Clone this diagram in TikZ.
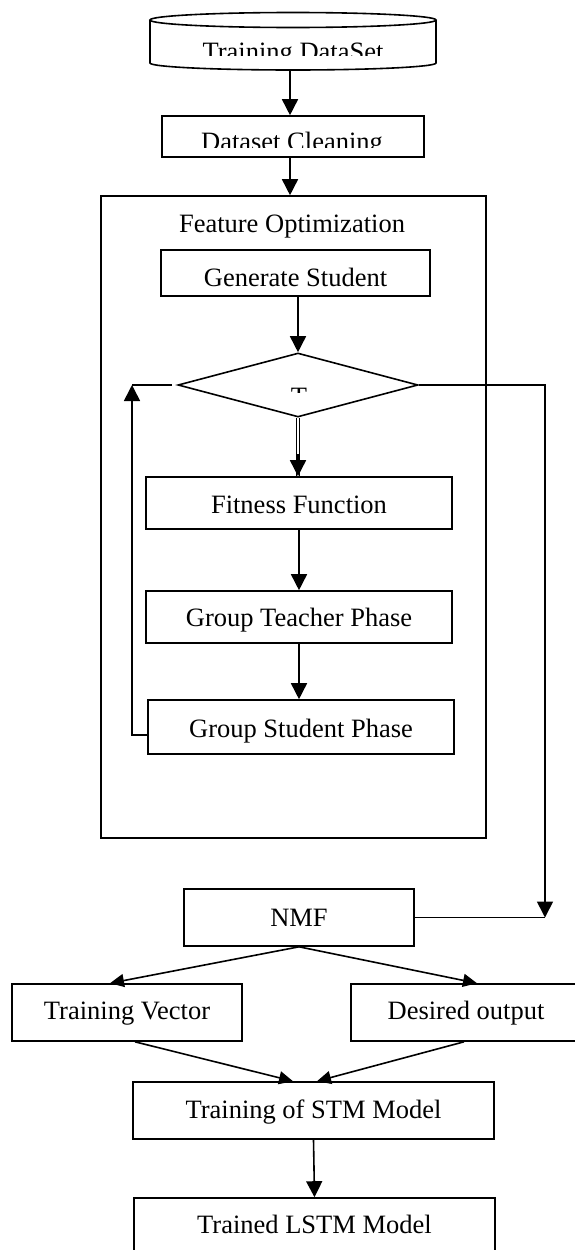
\documentclass[tikz,border=0pt]{standalone}
\usepackage{fontspec}
\setmainfont{Liberation Serif}
\usetikzlibrary{arrows.meta,shapes.geometric,calc}
\begin{document}
\begin{tikzpicture}[x=1pt,y=-1pt,
  every node/.style={font=\fontsize{26.5}{30}\selectfont, inner sep=0pt},
  ln/.style={line width=1.6pt},
  box/.style={draw, line width=1.6pt, rectangle, text height=26pt, minimum height=57pt},
  arr/.style={line width=1.6pt, -{Triangle[width=16pt,length=16pt]}},
  sarr/.style={line width=1.6pt, -{Triangle[width=13pt,length=14pt]}}]
\useasboundingbox (0,0) rectangle (575,1250);
\clip (0,0) rectangle (575,1250);

% cylinder
\draw[ln] (293,20) ellipse [x radius=143pt, y radius=7.5pt];
\draw[ln] (150,20) -- (150,63) arc[start angle=180, end angle=360, x radius=143pt, y radius=7pt] -- (436,20);
\begin{scope}
  \clip (150,28) rectangle (436,55);
  \node[anchor=base] (dst) at (293,60.5) {Training DataSet};
\end{scope}
\coordinate (dsb) at (290,70);

% dataset cleaning
\node[box, minimum width=262pt, minimum height=41pt] (dc) at (293,136.5) {};
\begin{scope}
  \clip (162,116) rectangle (424,147);
  \node[anchor=base] (dct) at (292,150.5) {Dataset Cleaning};
\end{scope}

% feature optimization container
\node[box, minimum width=385pt, minimum height=642pt] (fo) at (293.5,517) {};
\node[anchor=base] (fot) at (292,232) {Feature Optimization};

\node[box, minimum width=269pt, minimum height=46pt, text depth=0pt] (gs) at (295.5,273) {Generate Student};
\node[diamond, draw, line width=1.6pt, minimum width=240pt, minimum height=64pt] (dia) at (298,385) {};
\begin{scope}
  \clip (178,353) rectangle (418,392);
  \node[anchor=base] (diat) at (299,405.5) {T};
\end{scope}
\node[box, minimum width=306pt, minimum height=52pt, text depth=6pt] (ff) at (299,503) {Fitness Function};
\node[box, minimum width=306pt, minimum height=52pt, text depth=8pt] (gtp) at (299,617) {Group Teacher Phase};
\node[box, minimum width=306pt, minimum height=54pt, text depth=6pt] (gsp) at (301,727) {Group Student Phase};

% lower part
\node[box, minimum width=230pt, text depth=9pt] (nmf) at (299,917.5) {NMF};
\node[box, minimum width=230pt, text depth=13pt] (tv) at (127,1012.5) {Training Vector};
\node[box, minimum width=230pt, text depth=12pt] (do) at (466,1012.5) {Desired output};
\node[box, minimum width=361pt, text depth=11pt] (stm) at (313.5,1110.5) {Training of STM Model};
\node[box, minimum width=361pt, text depth=13pt] (lstm) at (314.5,1226.5) {Trained LSTM Model};

% connectors
\draw[arr] (dsb) -- (dsb |- dc.north);
\draw[arr] (dc.south -| dsb) -- (dsb |- fo.north);
\draw[arr] (dia.north |- gs.south) -- (dia.north);
\draw[line width=1.1pt] ([xshift=-1.9pt]dia.south) -- ([xshift=-1.9pt]dia.south |- ff.north);
\draw[line width=1.1pt] ([xshift=1.9pt]dia.south) -- ([xshift=1.9pt]dia.south |- ff.north);
\draw[arr] ($(dia.south |- ff.north)+(0,-22)$) -- (dia.south |- ff.north);
\draw[arr] (ff.south) -- (gtp.north);
\draw[arr] (gtp.south) -- (gtp.south |- gsp.north);

\coordinate (lc) at (132,385);
\draw[arr] ([yshift=-8pt]gsp.west) -| (lc);
\draw[ln] (lc) -- ([xshift=-5pt]dia.west);

\coordinate (rc) at (545,917.5);
\draw[arr] (dia.east) -| (rc);
\draw[ln] (rc) -- (nmf.east);

\draw[sarr] (nmf.south) -- ($(tv.north)+(-17,0)$);
\draw[sarr] (nmf.south) -- ($(do.north)+(11,0)$);
\draw[sarr] ($(tv.south)+(8,0)$) -- ($(stm.north)+(-20.5,0)$);
\draw[sarr] ($(do.south)+(-2,0)$) -- ($(stm.north)+(3.5,0)$);
\draw[arr] (stm.south) -- (lstm.north);
\end{tikzpicture}
\end{document}
